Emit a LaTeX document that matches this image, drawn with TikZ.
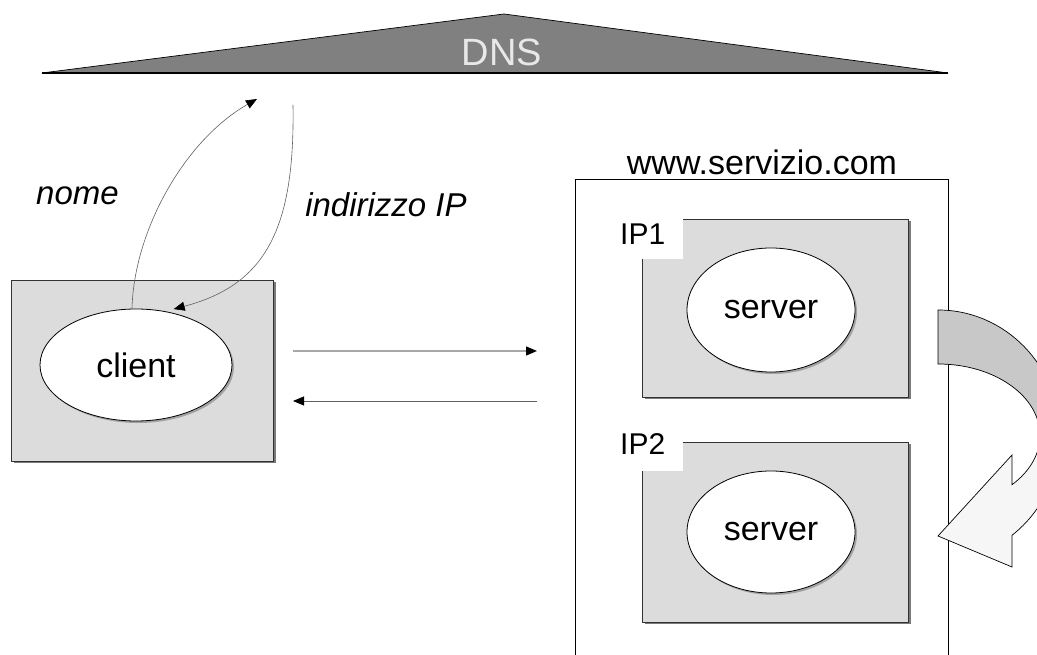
\documentclass[tikz,border=0pt]{standalone}
\usepackage{fontspec}
\setmainfont{Liberation Sans}
\usetikzlibrary{arrows.meta,shapes.geometric,calc}
\definecolor{boxgray}{HTML}{DCDCDC}
\definecolor{dnsgray}{HTML}{808080}
\definecolor{bandgray}{HTML}{C8C8C8}
\definecolor{headwhite}{HTML}{F6F6F6}
\definecolor{linegray}{HTML}{606060}
\definecolor{lightline}{HTML}{A8A8A8}
\definecolor{textlight}{HTML}{E8E8E8}
\definecolor{shadowc}{HTML}{7A7A7A}
\begin{document}
\begin{tikzpicture}[x=1pt,y=1pt,
  lbl/.style={font=\fontsize{34}{40}\selectfont, inner sep=0pt},
  iplbl/.style={font=\fontsize{30}{36}\selectfont, inner sep=0pt, anchor=base west},
  hostbox/.style={draw=black!80, line width=0.8pt, fill=boxgray, inner sep=0pt},
  oval/.style={ellipse, draw=black, line width=0.8pt, fill=white, inner sep=0pt, font=\fontsize{34}{40}\selectfont},
  tipend/.style={-{Triangle[length=11pt,width=9pt,color=black]}},
  thinline/.style={draw=linegray, line width=0.6pt},
  outl/.style={draw=black, line width=0.7pt},
]
\useasboundingbox (0,0) rectangle (1037,655);
\clip (0,0) rectangle (1037,655);

% DNS triangle
\draw[outl, fill=dnsgray] (42,582) -- (504,641) -- (948,582) -- cycle;
\draw[line width=1.4pt] (42,582) -- (948,582);
\node[font=\fontsize{38}{44}\selectfont, text=textlight, inner sep=0pt, anchor=base] (dns) at (502,589) {DNS};

% client host
\fill[shadowc] (13.5,191.5) rectangle (275.5,372.5);
\node[hostbox, minimum width=262, minimum height=181] (clientbox) at (142,284.5) {};
\fill[shadowc!70] (138,288) ellipse [x radius=96, y radius=56];
\node[oval, minimum width=192, minimum height=112] (client) at (136,290) {client};

% labels
\node[lbl, anchor=base, font=\fontsize{33}{38}\selectfont\itshape] (nome) at (77.5,450) {nome};
\node[lbl, anchor=base, font=\fontsize{33}{38}\selectfont\itshape] (ind) at (386,438) {indirizzo IP};

% DNS query/answer curves
\coordinate (dnsq) at (257,556);
\coordinate (dnsa) at (293,550);
\draw[thinline, tipend] ($(client.north)+(-4,0)$) .. controls (134,425) and (185,515) .. (dnsq);
\draw[thinline, tipend] (dnsa) .. controls (295,425) and (265,370) .. ($(client.54)+(0,4)$);

% server farm
\node[outl, minimum width=373, minimum height=500, anchor=north west, inner sep=0pt] (farm) at (575,476) {};
\node[lbl, anchor=base] (www) at (762,480) {www.servizio.com};

% IP1
\fill[shadowc] (644.5,255.5) rectangle (910.5,433.5);
\node[hostbox, minimum width=266, minimum height=178] (ip1box) at (775,347) {};
\fill[white] (605,396) rectangle (683,437);
\node[iplbl] (ip1) at (620,410) {IP1};
\fill[shadowc!70] (773,343) ellipse [x radius=84, y radius=62];
\node[oval, minimum width=168, minimum height=124] (srv1) at (771,345) {server};

% IP2
\fill[shadowc] (644.5,30.5) rectangle (910.5,210.5);
\node[hostbox, minimum width=266, minimum height=180] (ip2box) at (775,123) {};
\fill[white] (605,184) rectangle (683,214);
\node[iplbl] (ip2) at (620,200) {IP2};
\fill[shadowc!70] (773,121) ellipse [x radius=84, y radius=61];
\node[oval, minimum width=168, minimum height=122] (srv2) at (771,123) {server};

% request / response arrows
\coordinate (r1) at (293,304);
\coordinate (r2) at (537,304);
\coordinate (s1) at (537,254);
\coordinate (s2) at (293,254);
\draw[draw=lightline, line width=1.4pt, tipend] (r1) -- (r2);
\draw[draw=linegray, line width=0.9pt, tipend] (s1) -- (s2);

% round-robin curved arrow
\draw[outl, fill=bandgray] (938,345) arc[start angle=90, end angle=0, x radius=122, y radius=125.5]
  -- (1040,219.5) arc[start angle=0, end angle=90, x radius=102, y radius=71.5] -- cycle;
\draw[outl, fill=headwhite] (1060,219.5) arc[start angle=0, end angle=-52.7, x radius=122, y radius=125.5]
  -- (1012,88) -- (938,119) -- (1012,200) -- (1012,170.3)
  arc[start angle=-43.5, end angle=0, x radius=102, y radius=71.5] -- cycle;
\end{tikzpicture}
\end{document}
